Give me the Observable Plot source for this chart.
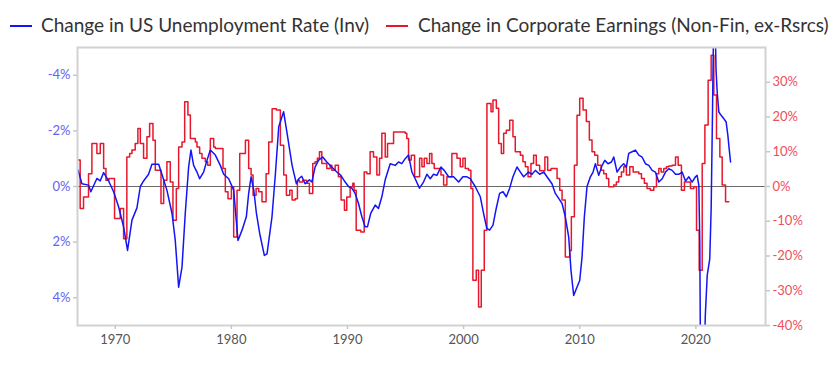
<!DOCTYPE html>
<html>
<head>
<meta charset="utf-8">
<script src="https://cdn.jsdelivr.net/npm/d3@7"></script>
<script src="https://cdn.jsdelivr.net/npm/@observablehq/plot@0.6"></script>
<style>
  html, body { margin: 0; padding: 0; background: #fff; }
  #wrap { width: 840px; height: 372px; position: relative; overflow: hidden; font-family: Lato, "Open Sans", sans-serif; }
  #legend { position: relative; width: 840px; height: 40px; }
  #legend .sw { position: absolute; top: 25px; width: 22px; height: 2px; }
  #legend .tx { position: absolute; top: 15px; line-height: 20px; font-size: 19px; color: #333; white-space: nowrap; }
  #chart svg { display: block; }
</style>
</head>
<body>
<div id="wrap">
  <div id="legend"></div>
  <div id="chart"></div>
</div>
<script>
// ---- Data ----
const seriesNames = ["Change in US Unemployment Rate (Inv)", "Change in Corporate Earnings (Non-Fin, ex-Rsrcs)"];
const seriesColors = ["#1414f5", "#e6182d"];

// Year-over-year change in US unemployment rate, percentage points (plotted on an inverted left axis)
const unempYears = [1966.8,1967.13,1967.7,1967.9,1968.42,1968.7,1969.0,1969.43,1969.86,1970.29,1970.72,1971.06,1971.44,1971.87,1972.16,1972.44,1972.87,1973.16,1973.74,1974.02,1974.45,1974.89,1975.17,1975.46,1975.75,1976.03,1976.32,1976.52,1976.75,1977.04,1977.27,1977.61,1977.9,1978.19,1978.62,1979.05,1979.34,1979.77,1980.2,1980.57,1980.92,1981.29,1981.49,1981.7,1981.93,1982.16,1982.44,1982.84,1983.07,1983.5,1983.79,1984.08,1984.5,1984.8,1985.23,1985.6,1985.8,1986.06,1986.35,1986.72,1986.93,1987.21,1987.5,1987.87,1988.22,1988.65,1989.08,1989.43,1989.8,1990.09,1990.37,1990.66,1990.95,1991.24,1991.52,1991.72,1992.0,1992.39,1992.67,1992.96,1993.25,1993.68,1994.11,1994.4,1994.68,1994.97,1995.26,1995.55,1995.83,1996.2,1996.55,1996.84,1997.13,1997.41,1997.7,1998.05,1998.33,1998.71,1999.14,1999.57,1999.94,2000.29,2000.57,2001.0,2001.44,2001.72,2002.0,2002.24,2002.53,2002.81,2003.1,2003.39,2003.68,2003.97,2004.25,2004.6,2004.89,2005.17,2005.6,2005.89,2006.18,2006.55,2006.9,2007.18,2007.61,2007.9,2008.19,2008.48,2008.76,2009.05,2009.25,2009.48,2009.71,2010.0,2010.2,2010.4,2010.63,2010.92,2011.15,2011.35,2011.64,2011.93,2012.16,2012.44,2012.73,2012.93,2013.22,2013.5,2013.79,2014.02,2014.22,2014.51,2014.8,2015.09,2015.37,2015.66,2015.95,2016.24,2016.52,2016.81,2017.1,2017.39,2017.67,2017.96,2018.25,2018.53,2018.82,2019.11,2019.4,2019.68,2019.97,2020.11,2020.26,2020.34,2020.45,2020.58,2020.7,2020.82,2020.98,2021.2,2021.32,2021.44,2021.58,2021.66,2021.74,2021.84,2021.98,2022.18,2022.41,2022.61,2022.76,2022.87,2022.99];
const unempChange = [-0.59,-0.1,-0.05,0.19,-0.29,-0.2,-0.5,-0.2,0.19,0.73,1.45,2.3,1.21,0.77,0,-0.2,-0.44,-0.8,-0.8,-0.44,0.13,0.97,1.94,3.62,2.9,0.97,-0.7,-1.31,-0.76,-0.52,-0.28,-0.52,-0.94,-1.31,-1.13,-0.76,-0.44,-0.28,0.13,1.94,1.57,1.09,0.25,-0.35,0.13,0.97,1.69,2.48,2.42,1.09,-0.44,-2.15,-2.69,-1.91,-0.76,-0.1,-0.28,-0.37,-0.1,-0.24,-0.16,-0.7,-0.94,-1.06,-0.88,-0.7,-0.52,-0.4,-0.16,0,0.06,0.25,0.61,1.09,1.45,1.45,0.97,0.67,0.79,0.37,-0.24,-0.82,-0.76,-0.88,-0.82,-1.0,-1.13,-0.52,-0.28,0.06,-0.16,-0.44,-0.28,-0.44,-0.4,-0.7,-0.58,-0.35,-0.35,-0.16,-0.35,-0.35,-0.28,0,0.37,0.97,1.51,1.57,1.39,0.79,0.25,0.19,0.37,0.06,-0.35,-0.7,-0.52,-0.35,-0.52,-0.44,-0.58,-0.44,-0.52,-0.35,-0.1,0.25,0.43,0.61,1.09,1.81,3.02,3.92,3.68,3.38,2.54,1.09,0,-0.35,-0.52,-0.82,-0.4,-0.76,-0.94,-0.82,-0.88,-1.06,-0.52,-0.7,-0.82,-0.7,-1.19,-1.25,-1.31,-1.13,-1.06,-0.82,-0.76,-0.58,-0.52,-0.16,-0.28,-0.52,-0.64,-0.58,-0.44,-0.44,-0.52,-0.2,-0.35,-0.16,-0.35,-0.4,-0.04,2.0,9.5,8.0,6.5,4.6,3.2,2.6,0.8,-2.8,-7.5,-6.0,-4.2,-3.4,-2.68,-2.56,-2.44,-2.32,-1.84,-1.36,-0.88];

// Year-over-year change in corporate earnings, % (right axis), stepped quarterly
const earnYears = [1966.75,1966.98,1967.27,1967.7,1967.99,1968.42,1968.71,1969.0,1969.2,1969.45,1969.94,1970.43,1970.72,1971.0,1971.24,1971.44,1971.72,1971.95,1972.16,1972.44,1972.73,1972.96,1973.25,1973.45,1973.94,1974.17,1974.45,1974.74,1974.97,1975.26,1975.46,1975.75,1975.98,1976.26,1976.47,1976.9,1977.04,1977.27,1977.47,1977.76,1977.96,1978.19,1978.48,1978.62,1979.28,1979.48,1979.71,1980.0,1980.2,1980.49,1980.72,1981.21,1981.49,1981.7,1981.87,1982.13,1982.36,1982.64,1982.99,1983.22,1983.51,1983.88,1984.22,1984.51,1984.74,1985.03,1985.23,1985.5,1985.69,1985.86,1986.15,1986.49,1986.72,1987.01,1987.21,1987.41,1987.59,1987.79,1988.22,1988.51,1988.65,1988.94,1989.22,1989.45,1989.74,1989.94,1990.23,1990.46,1990.57,1990.75,1991.15,1991.44,1991.67,1991.95,1992.24,1992.53,1992.76,1992.96,1993.25,1993.45,1993.97,1994.97,1995.11,1995.26,1995.49,1995.78,1996.21,1996.41,1996.61,1996.84,1997.07,1997.27,1997.47,1998.05,1998.28,1998.56,1998.99,1999.43,1999.71,1999.94,2000.14,2000.43,2000.63,2000.8,2001.09,2001.29,2001.52,2001.78,2002.01,2002.36,2002.53,2002.82,2003.02,2003.25,2003.45,2003.68,2003.97,2004.25,2004.45,2004.89,2005.11,2005.32,2005.55,2005.8,2006.03,2006.26,2006.55,2007.0,2007.24,2007.53,2008.05,2008.28,2008.48,2008.76,2009.14,2009.28,2009.54,2009.77,2010.0,2010.29,2010.57,2010.83,2011.06,2011.29,2011.55,2011.84,2012.07,2012.3,2012.5,2012.93,2013.16,2013.36,2013.59,2013.79,2014.02,2014.31,2014.6,2015.09,2015.32,2015.57,2015.8,2016.09,2016.38,2016.61,2016.81,2017.01,2017.24,2017.47,2017.67,2017.96,2018.25,2018.48,2018.76,2019.02,2019.54,2019.83,2020.06,2020.29,2020.55,2020.78,2021.06,2021.32,2021.55,2021.78,2022.07,2022.27,2022.56,2022.84];
const earnChange = [7.6,-6.3,-3.0,3.7,12.4,9.5,12.4,5.2,1.8,2.3,-9.2,-6.3,-15.0,8.5,9.5,10.5,12.4,16.7,12.4,8.1,14.3,18.1,13.3,4.7,-4.9,1.8,7.1,1.3,-9.7,-0.6,11.4,12.8,24.4,20.6,13.8,12.8,11.4,9.5,8.1,7.1,6.1,13.8,11.4,10.9,5.2,-1.5,-3.5,-0.1,-14.5,-1.1,9.5,13.3,5.2,3.3,-2.5,-0.6,-1.5,-4.4,3.7,12.8,22.4,22.0,11.9,3.3,-2.5,-1.1,-3.9,-3.5,1.8,1.3,1.8,0.9,-2.0,6.6,7.1,8.1,10.0,6.6,5.2,6.1,4.7,6.1,2.8,-3.9,-6.8,-3.0,-0.1,0.9,-1.1,-12.6,-13.1,4.2,3.7,10.0,8.5,3.3,8.1,15.3,8.5,12.4,15.7,15.3,13.8,7.6,9.0,2.8,8.1,5.7,8.1,6.6,9.5,6.6,5.2,3.3,0.4,2.8,9.5,8.1,5.7,8.1,5.2,4.7,-0.6,-27.0,-24.1,-34.7,-24.1,-12.6,23.9,21.5,24.9,22.5,12.4,9.5,15.3,16.2,19.1,14.3,10.0,9.0,7.1,5.7,2.8,6.6,9.0,6.1,4.5,8.5,4.7,5.2,2.3,-1.1,-3.9,-20.3,-18.4,-8.7,6.1,20.5,25.4,22.0,18.7,13.4,10.0,9.0,6.1,4.7,3.7,2.3,-0.1,0.4,1.3,2.8,4.2,5.7,3.3,5.7,4.2,3.7,2.3,0.9,-0.6,-1.1,-0.1,3.7,5.2,4.2,5.2,5.7,5.9,6.1,8.5,6.1,-1.1,1.3,-0.6,-0.1,-12.6,-24.1,6.6,17.7,30.6,37.8,26.3,13.8,8.5,0.4,-4.4,-4.4];

// Axis ticks
const xTicks = [1970, 1980, 1990, 2000, 2010, 2020];
const leftTicks = [-4, -2, 0, 2, 4];            // unemployment change, %
const rightTicks = [30, 20, 10, 0, -10, -20, -30, -40]; // earnings change, %

// ---- Legend ----
const legend = document.getElementById("legend");
const legendPos = [{sw: 10, tx: 41}, {sw: 386, tx: 418}];
seriesNames.forEach((name, i) => {
  const sw = document.createElement("div");
  sw.className = "sw";
  sw.style.left = legendPos[i].sw + "px";
  sw.style.background = seriesColors[i];
  legend.appendChild(sw);
  const tx = document.createElement("div");
  tx.className = "tx";
  tx.style.left = legendPos[i].tx + "px";
  tx.textContent = name;
  legend.appendChild(tx);
});

// ---- Chart ----
const ratio = 8; // 40% earnings <-> 5 pp unemployment
const unemp = unempYears.map((t, i) => ({t, v: unempChange[i]}));
const earn = earnYears.map((t, i) => ({t, v: -earnChange[i] / ratio}));

const chart = Plot.plot({
  width: 840,
  height: 332,
  marginTop: 7,
  marginBottom: 47,
  marginLeft: 77,
  marginRight: 75,
  style: {fontFamily: "Lato, 'Open Sans', sans-serif", fontSize: "13px", background: "#fff", overflow: "visible"},
  x: {domain: [1966.75, 2026], label: null},
  y: {domain: [5, -5], label: null},
  marks: [
    Plot.ruleY([0], {stroke: "#6a6a6a", strokeWidth: 1.2}),
    Plot.line(earn, {x: "t", y: "v", curve: "step-after", stroke: seriesColors[1], strokeWidth: 1.5, clip: true}),
    Plot.line(unemp, {x: "t", y: "v", stroke: seriesColors[0], strokeWidth: 1.5, clip: true}),
    Plot.frame({stroke: "#d2d2d2", strokeWidth: 2}),
    Plot.axisX({ticks: xTicks, tickFormat: d => String(d), label: null, tickSize: 4, tickPadding: 5, stroke: "#c8c8c8", fill: "#555", strokeWidth: 1.5}),
    Plot.axisY({anchor: "left", ticks: leftTicks, tickFormat: d => `${d}%`, label: null, tickSize: 4, tickPadding: 3, stroke: "#c8c8c8", fill: "#6262f2", strokeWidth: 1.5}),
    Plot.axisY({anchor: "right", ticks: rightTicks.map(e => -e / ratio), tickFormat: d => `${Math.round(-d * ratio)}%`, label: null, tickSize: 4, tickPadding: 3, stroke: "#c8c8c8", fill: "#ef4e5c", strokeWidth: 1.5})
  ]
});
document.getElementById("chart").appendChild(chart);
</script>
</body>
</html>
